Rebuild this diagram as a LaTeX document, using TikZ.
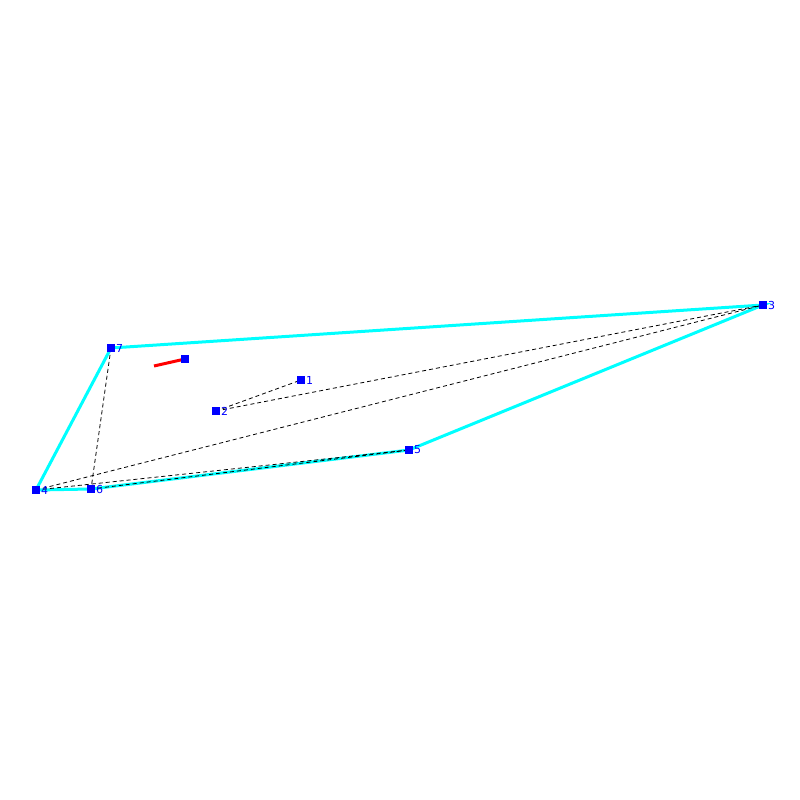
\documentclass[tikz,border=0pt]{standalone}
\usepackage{fontspec}
\setmainfont{DejaVu Sans}
\definecolor{aqua}{RGB}{0,255,255}
\definecolor{pblue}{RGB}{0,0,255}
\begin{document}
\begin{tikzpicture}[x=1pt,y=-1pt,
  pt/.style={fill=pblue,minimum size=8pt,inner sep=0pt,outer sep=0pt},
  lbl/.style={text=pblue,font=\fontsize{11}{11}\selectfont,inner sep=0pt,anchor=west},
  hull/.style={aqua,line width=3pt},
  dsh/.style={black,line width=0.8pt,dash pattern=on 4pt off 3pt}]
\useasboundingbox (0,0) rectangle (800,800);
\node[pt] (p1) at (301,380) {};
\node[pt] (p2) at (216,411) {};
\node[pt] (p3) at (763,305) {};
\node[pt] (p4) at (36,490) {};
\node[pt] (p5) at (409,450) {};
\node[pt] (p6) at (91,489) {};
\node[pt] (p7) at (111,348) {};
\coordinate (r1) at (154,366);
\coordinate (r2) at (185,359);
\draw[hull] (p4.center) -- (p7.center) -- (p3.center) -- (p5.center) -- (p6.center) -- cycle;
\draw[dsh] (p7.center) -- (p6.center);
\draw[dsh] (p4.center) -- (p3.center);
\draw[dsh] (p4.center) -- (p5.center);
\draw[dsh] (p6.center) -- (p5.center);
\draw[dsh] (p2.center) -- (p1.center);
\draw[dsh] (p2.center) -- (p3.center);
\draw[red,line width=3pt] (r1) -- (r2);
\node[pt] (p8) at (r2) {};
\foreach \i in {1,...,7} {
  \node[pt] at (p\i) {};
  \node[lbl] at ([xshift=1pt]p\i.east) {\i};
}
\end{tikzpicture}
\end{document}
